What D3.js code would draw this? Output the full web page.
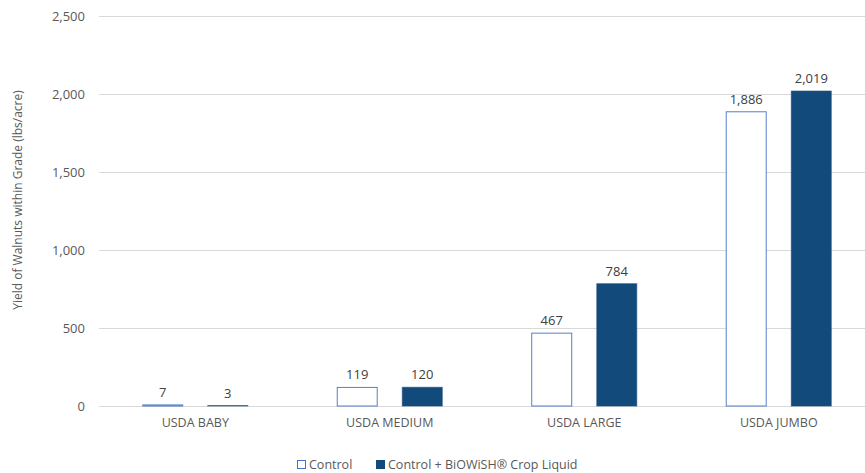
<!DOCTYPE html>
<html>
<head>
<meta charset="utf-8">
<script src="https://cdn.jsdelivr.net/npm/d3@7/dist/d3.min.js"></script>
<style>
  html, body { margin: 0; padding: 0; background: #fff; }
  svg { display: block; font-family: "Open Sans", "Noto Sans", sans-serif; }
</style>
</head>
<body>
<svg id="chart" width="865" height="473"></svg>
<script>
// Walnut yield by USDA grade
const categories = ["USDA BABY", "USDA MEDIUM", "USDA LARGE", "USDA JUMBO"];
const seriesNames = ["Control", "Control + BiOWiSH\u00AE Crop Liquid"];
const controlValues = [7, 119, 467, 1886];
const treatedValues = [3, 120, 784, 2019];
const yTicks = [0, 500, 1000, 1500, 2000, 2500];
const yTitle = "Yield of Walnuts within Grade (lbs/acre)";

const W = 865, H = 473;
const margin = { left: 98, right: -11, top: 16, bottom: 67 };
const svg = d3.select("#chart");

const x = d3.scaleBand()
  .domain(categories)
  .range([margin.left, W - margin.right])
  .paddingInner(0).paddingOuter(0);

const x1 = d3.scaleBand()
  .domain(seriesNames)
  .range([0, x.bandwidth()])
  .paddingInner(0.37)
  .paddingOuter(0.68);

const y = d3.scaleLinear()
  .domain([0, 2500])
  .range([H - margin.bottom, margin.top]);

const fmt = d3.format(",");
const textColor = "#595959";
const colorControl = "#4472C4";
const colorTreated = "#134A7C";

// gridlines
svg.append("g")
  .selectAll("line")
  .data(yTicks)
  .join("line")
  .attr("x1", margin.left + 1)
  .attr("x2", W - margin.right)
  .attr("y1", d => Math.round(y(d)) + 0.5)
  .attr("y2", d => Math.round(y(d)) + 0.5)
  .attr("stroke", "#D9D9D9")
  .attr("stroke-width", 1);

// y axis labels
const yAxis = svg.append("g")
  .attr("transform", `translate(${margin.left - 13},0)`)
  .call(d3.axisLeft(y).tickValues(yTicks).tickFormat(fmt).tickSize(0).tickPadding(0));
yAxis.select(".domain").remove();
yAxis.selectAll("text")
  .attr("fill", textColor)
  .attr("font-size", 13)
  .attr("font-family", "Open Sans, sans-serif");

// x axis labels
const xAxis = svg.append("g")
  .attr("transform", `translate(0,${y(0)})`)
  .call(d3.axisBottom(x).tickSize(0).tickPadding(12));
xAxis.select(".domain").remove();
xAxis.selectAll("text")
  .attr("fill", textColor)
  .attr("font-size", 12.5)
  .attr("font-family", "Open Sans, sans-serif");

// y axis title
svg.append("text")
  .attr("transform", "translate(22,200) rotate(-90)")
  .attr("text-anchor", "middle")
  .attr("fill", textColor)
  .attr("font-size", 12)
  .text(yTitle);

// bars
const rows = categories.map((c, i) => ({
  cat: c,
  vals: [
    { s: seriesNames[0], v: controlValues[i] },
    { s: seriesNames[1], v: treatedValues[i] }
  ]
}));

const groups = svg.append("g")
  .selectAll("g")
  .data(rows)
  .join("g")
  .attr("transform", d => `translate(${x(d.cat)},0)`);

groups.selectAll("rect")
  .data(d => d.vals)
  .join("rect")
  .attr("x", d => x1(d.s) + 0.5)
  .attr("y", d => y(d.v))
  .attr("width", x1.bandwidth() - 1)
  .attr("height", d => y(0) - y(d.v))
  .attr("fill", d => d.s === seriesNames[0] ? "#fff" : colorTreated)
  .attr("stroke", d => d.s === seriesNames[0] ? colorControl : colorTreated)
  .attr("stroke-opacity", d => d.s === seriesNames[0] ? 0.9 : 0.6)
  .attr("stroke-width", 1);

groups.selectAll("text.val")
  .data(d => d.vals)
  .join("text")
  .attr("class", "val")
  .attr("x", d => x1(d.s) + x1.bandwidth() / 2)
  .attr("y", d => y(d.v) - 8)
  .attr("text-anchor", "middle")
  .attr("fill", "#404040")
  .attr("font-size", 13)
  .text(d => fmt(d.v));

// legend
const legend = svg.append("g").attr("transform", "translate(297,465)");
const legendItems = [
  { name: seriesNames[0], x: 0, fill: "#fff", stroke: colorControl },
  { name: seriesNames[1], x: 79, fill: colorTreated, stroke: colorTreated }
];
const li = legend.selectAll("g").data(legendItems).join("g")
  .attr("transform", d => `translate(${d.x},0)`);
li.append("rect")
  .attr("x", 0.5).attr("y", -4.5)
  .attr("width", 8).attr("height", 8)
  .attr("fill", d => d.fill)
  .attr("stroke", d => d.stroke);
li.append("text")
  .attr("x", 12)
  .attr("y", 0)
  .attr("dy", "0.35em")
  .attr("fill", textColor)
  .attr("font-size", 12.5)
  .text(d => d.name);
</script>
</body>
</html>
